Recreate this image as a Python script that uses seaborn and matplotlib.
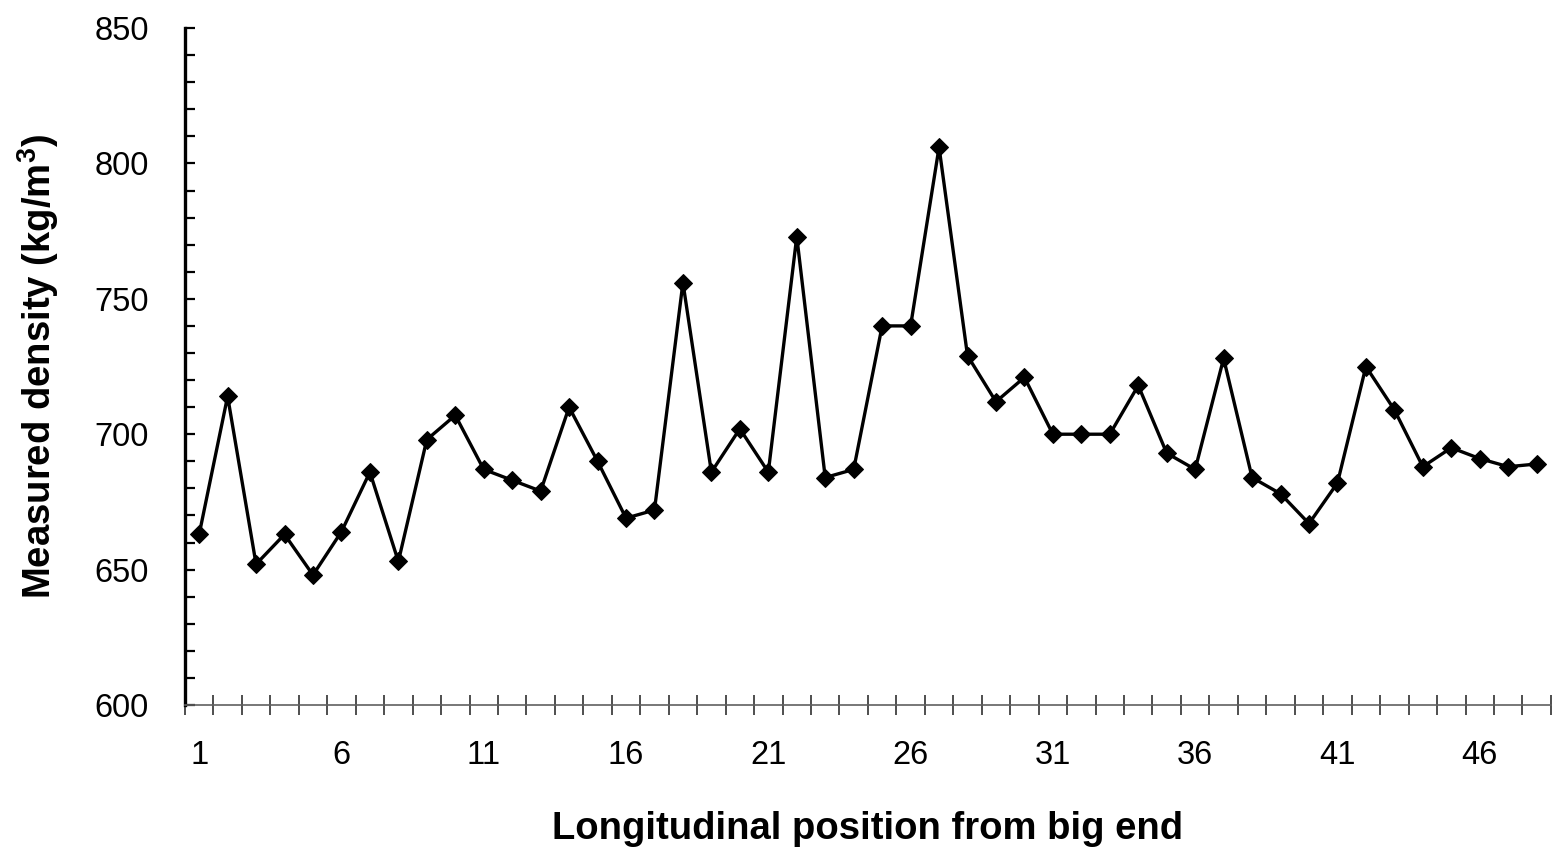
import numpy as np
import pandas as pd
import matplotlib
matplotlib.use('Agg')
import matplotlib.pyplot as plt
import seaborn as sns
from matplotlib.ticker import MultipleLocator, FixedLocator

# posicao longitudinal e densidade medida
posicao = list(range(1, 49))
densidade = [663, 714, 652, 663, 648, 664, 686, 653, 698, 707,
             687, 683, 679, 710, 690, 669, 672, 756, 686, 702,
             686, 773, 684, 687, 740, 740, 806, 729, 712, 721,
             700, 700, 700, 718, 693, 687, 728, 684, 678, 667,
             682, 725, 709, 688, 695, 691, 688, 689]
rotulos_x = [1, 6, 11, 16, 21, 26, 31, 36, 41, 46]

df = pd.DataFrame({'Posicao': posicao, 'Densidade': densidade})

sns.set_style('ticks')
plt.rcParams['font.family'] = ['Liberation Sans', 'DejaVu Sans']
plt.rcParams['text.color'] = 'black'
plt.rcParams['axes.labelcolor'] = 'black'
plt.rcParams['xtick.color'] = 'black'
plt.rcParams['ytick.color'] = 'black'
plt.rcParams['mathtext.fontset'] = 'custom'
plt.rcParams['mathtext.rm'] = 'Liberation Sans:bold'
plt.rcParams['mathtext.bf'] = 'Liberation Sans:bold'

fig = plt.figure(figsize=(15.54, 8.5), dpi=100)
ax = fig.add_axes([0.119, 0.1706, 0.879, 0.7964])

sns.lineplot(data=df, x='Posicao', y='Densidade', ax=ax, color='black',
             linewidth=2.4, marker='D', markersize=9, markeredgecolor='black')

ax.set_xlim(0.5, 48.5)
ax.set_ylim(600, 850)

# eixo y
ax.yaxis.set_major_locator(MultipleLocator(50))
ax.yaxis.set_minor_locator(MultipleLocator(10))
ax.tick_params(axis='y', which='both', direction='in', length=7, width=1.6,
               color='black', labelsize=23.5, labelcolor='black', pad=26)

# eixo x
ax.xaxis.set_major_locator(FixedLocator(rotulos_x))
ax.xaxis.set_minor_locator(FixedLocator(np.arange(0.5, 49, 1)))
ax.tick_params(axis='x', which='major', length=0, labelsize=23.5,
               labelcolor='black', pad=25)
ax.tick_params(axis='x', which='minor', direction='inout', length=15,
               width=1.2, color='#303030')

ax.spines['right'].set_visible(False)
ax.spines['top'].set_visible(False)
ax.spines['left'].set_linewidth(2.4)
ax.spines['left'].set_color('black')
ax.spines['bottom'].set_linewidth(1.2)
ax.spines['bottom'].set_color('#606060')

ax.set_xlabel('Longitudinal position from big end', fontsize=27.5,
              fontweight='bold', labelpad=29)
ax.set_ylabel(r'Measured density (kg/m$^{3}$)', fontsize=27.5,
              fontweight='bold', labelpad=24)

plt.savefig('out.png', dpi=100)
